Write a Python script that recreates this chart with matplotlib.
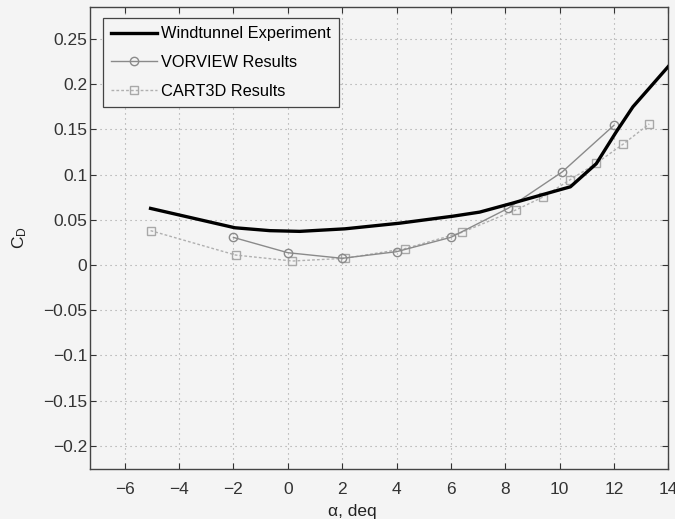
import matplotlib
matplotlib.use("Agg")
import matplotlib.pyplot as plt
from matplotlib.ticker import FuncFormatter

plt.rcParams['font.family'] = ['Liberation Sans', 'DejaVu Sans']
plt.rcParams['mathtext.fontset'] = 'custom'
plt.rcParams['mathtext.rm'] = 'Liberation Sans'
plt.rcParams['mathtext.it'] = 'Liberation Sans:italic'

# Windtunnel experiment (continuous curve)
wt_alpha = [-5.05, -1.95, -0.66, 0.44, 2.1, 4.1, 6.08, 7.06, 8.22, 10.1, 10.4, 11.35, 12.08, 12.7, 13.43, 14.1]
wt_cd = [0.0626, 0.0412, 0.038, 0.0372, 0.040, 0.0462, 0.054, 0.0585, 0.068, 0.084, 0.0865, 0.112, 0.147, 0.175, 0.200, 0.223]

# VORVIEW results
vv_alpha = [-2, 0, 2, 4, 6, 8.1, 10.1, 12.0]
vv_cd = [0.0305, 0.0136, 0.0074, 0.0147, 0.0306, 0.0626, 0.103, 0.1545]

# CART3D results
c3_alpha = [-5.05, -1.92, 0.17, 2.1, 4.3, 6.4, 8.38, 9.39, 10.37, 11.35, 12.33, 13.3]
c3_cd = [0.038, 0.011, 0.0044, 0.0074, 0.018, 0.036, 0.0607, 0.0752, 0.094, 0.1125, 0.1335, 0.156]

x_ticks = [-6, -4, -2, 0, 2, 4, 6, 8, 10, 12, 14]
y_ticks = [-0.2, -0.15, -0.1, -0.05, 0, 0.05, 0.1, 0.15, 0.2, 0.25]

bg = '#f4f4f4'
fig = plt.figure(figsize=(6.75, 5.19), dpi=100, facecolor=bg)
ax = fig.add_axes([0.1333, 0.0963, 0.8567, 0.8902], facecolor=bg)

ax.plot(wt_alpha, wt_cd, color='black', linewidth=2.4, label='Windtunnel Experiment', zorder=4)
ax.plot(vv_alpha, vv_cd, color='#8a8a8a', linewidth=1.0, marker='o', markersize=6,
        markerfacecolor='none', markeredgecolor='#8a8a8a', markeredgewidth=1.0,
        label='VORVIEW Results', zorder=3)
ax.plot(c3_alpha, c3_cd, color='#b0b0b0', linewidth=1.0, linestyle=(0, (2, 1.5)), marker='s',
        markersize=6, markerfacecolor='none', markeredgecolor='#a8a8a8', markeredgewidth=1.0,
        label='CART3D Results', zorder=2)

ax.set_xlim(-7.28, 14.0)
ax.set_ylim(-0.2257, 0.2854)
ax.set_xticks(x_ticks)
ax.set_yticks(y_ticks)

def fmt(v, pos):
    s = ('%.2f' % v).rstrip('0').rstrip('.')
    if s in ('-0', ''):
        s = '0'
    return s.replace('-', '\u2212')

ax.xaxis.set_major_formatter(FuncFormatter(fmt))
ax.yaxis.set_major_formatter(FuncFormatter(fmt))

ax.tick_params(direction='in', length=4, width=0.8, colors='#333333', labelsize=12.5,
               top=True, right=True)
ax.tick_params(axis='x', pad=9)
ax.tick_params(axis='y', pad=2)
for s in ax.spines.values():
    s.set_color('#444444')
    s.set_linewidth(1.0)

ax.grid(True, linestyle=(0, (1, 3.5)), color='#a0a0a0', linewidth=0.8)
ax.set_axisbelow(True)

ax.set_xlabel('\u03b1, deq', fontsize=12.5, color='#222222')
ax.xaxis.set_label_coords(0.453, -0.075)
ax.set_ylabel('C$_\\mathrm{D}$', fontsize=12.5, color='#222222')
ax.yaxis.set_label_coords(-0.105, 0.5)

leg = ax.legend(loc='upper left', bbox_to_anchor=(0.0225, 0.976), borderaxespad=0,
                fontsize=11.8, handlelength=2.8, borderpad=0.5, labelspacing=0.85,
                handletextpad=0.25, fancybox=False, framealpha=1, facecolor=bg,
                edgecolor='#444444')
leg.get_frame().set_linewidth(0.9)

fig.savefig('out.png', dpi=100, facecolor=bg)
